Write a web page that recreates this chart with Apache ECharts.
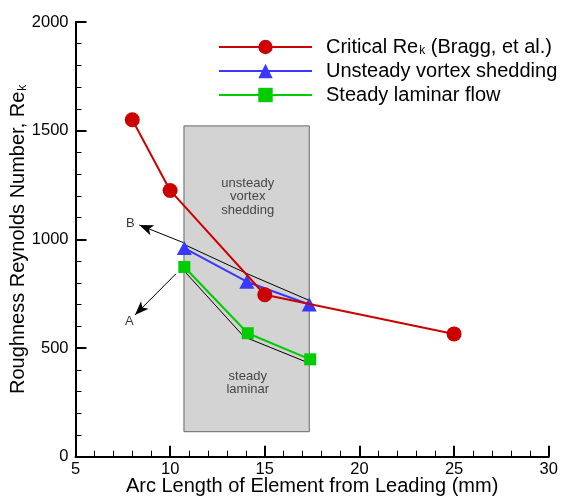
<!DOCTYPE html>
<html><head><meta charset="utf-8">
<script src="https://cdn.jsdelivr.net/npm/echarts@6/dist/echarts.min.js"></script>
<style>html,body{margin:0;padding:0;background:#fff}#c{width:561px;height:497px}</style>
</head><body><div id="c"></div>
<script>
// ---- data ----
const criticalX = [8, 10, 15, 25];
const criticalY = [1550, 1225, 745, 565];
const vortexX = [10.75, 14.05, 17.35];
const vortexY = [960, 805, 700];
const laminarX = [10.75, 14.1, 17.4];
const laminarY = [873, 568, 448];
const vortexEdgeX = [10.78, 14.12, 17.3];
const vortexEdgeY = [975, 840, 721];
const laminarEdgeX = [10.78, 13.9, 17.3];
const laminarEdgeY = [851, 552, 432];
const boxX = [10.73, 17.35];
const boxY = [115, 1522];
const arrowB = [[10.7, 985], [8.37, 1066]];
const arrowA = [[10.3, 841], [8.14, 652]];
const labelB = [7.9, 1074];
const labelA = [7.85, 623];
const boxTextTop = [14.1, 1197, 'unsteady\nvortex\nshedding'];
const boxTextBottom = [14.1, 339, 'steady\nlaminar'];
const xTicks = [5, 10, 15, 20, 25, 30];
const yTicks = [0, 500, 1000, 1500, 2000];
const seriesNames = ['Critical', 'Unsteady vortex shedding', 'Steady laminar flow'];

const zip = (xs, ys) => xs.map((x, i) => [x, ys[i]]);
const FONT = 'Liberation Sans, Arial, sans-serif';
const RED = '#cc0000', BLUE = '#3838ff', GREEN = '#00cc00';

const chart = echarts.init(document.getElementById('c'));
chart.setOption({
  animation: false,
  backgroundColor: '#fff',
  textStyle: {fontFamily: FONT},
  grid: {left: 75.5, right: 12.3, top: 22, bottom: 40.3, containLabel: false, outerBoundsMode: 'none'},
  legend: {
    data: seriesNames,
    orient: 'vertical',
    left: 213, top: 32,
    itemWidth: 93, itemHeight: 18, itemGap: 4,
    textStyle: {fontSize: 20, lineHeight: 20, color: '#000', fontFamily: FONT, padding: [0, 0, 0, 9],
      rich: {
        n: {fontSize: 20, fontFamily: FONT, color: '#000', lineHeight: 20},
        s: {fontSize: 12, fontFamily: FONT, color: '#000', verticalAlign: 'bottom', lineHeight: 6, padding: [0, 0, 0, 1]}
      }},
    formatter: n => n === 'Critical' ? '{n|Critical Re}{s|k}{n| (Bragg, et al.)}' : n,
    selectedMode: false
  },
  xAxis: {
    type: 'value', min: xTicks[0], max: xTicks[xTicks.length - 1], interval: 5,
    name: 'Arc Length of Element from Leading (mm)',
    nameLocation: 'middle', nameGap: 20, nameMoveOverlap: false,
    nameTextStyle: {fontSize: 20, lineHeight: 20, color: '#000', fontFamily: FONT},
    axisLine: {show: true, onZero: false, lineStyle: {color: '#000', width: 2}},
    axisTick: {show: true, inside: true, length: 11, lineStyle: {color: '#000', width: 2}},
    minorTick: {show: true, splitNumber: 5, length: 6, lineStyle: {color: '#000', width: 1}},
    axisLabel: {fontSize: 16.5, color: '#000', margin: 4, fontFamily: FONT, formatter: v => String(v)},
    splitLine: {show: false}
  },
  yAxis: {
    type: 'value', min: yTicks[0], max: yTicks[yTicks.length - 1], interval: 500,
    name: '{a|Roughness Reynolds Number, Re}{s|k}',
    nameLocation: 'middle', nameGap: 47, nameRotate: 90, nameMoveOverlap: false,
    nameTextStyle: {fontSize: 20, color: '#000', fontFamily: FONT,
      rich: {
        a: {fontSize: 20, color: '#000', fontFamily: FONT, lineHeight: 20},
        s: {fontSize: 12, color: '#000', fontFamily: FONT, verticalAlign: 'bottom', lineHeight: 6, padding: [0, 0, 0, 1]}
      }},
    axisLine: {show: true, onZero: false, lineStyle: {color: '#000', width: 2}},
    axisTick: {show: true, inside: true, length: 11, lineStyle: {color: '#000', width: 2}},
    minorTick: {show: true, splitNumber: 5, length: 6, lineStyle: {color: '#000', width: 1}},
    axisLabel: {fontSize: 16.5, color: '#000', margin: 7, fontFamily: FONT, formatter: v => String(v)},
    splitLine: {show: false}
  },
  series: [
    {
      name: 'box', type: 'scatter', data: [], z: 1, silent: true,
      markArea: {
        silent: true,
        itemStyle: {color: '#d3d3d3', borderColor: '#666', borderWidth: 1},
        data: [[{coord: [boxX[0], boxY[0]]}, {coord: [boxX[1], boxY[1]]}]]
      }
    },
    {
      name: 'texts', type: 'scatter', z: 2, silent: true, symbolSize: 0,
      data: [boxTextTop, boxTextBottom],
      label: {show: true, position: 'inside', formatter: p => p.data[2], fontSize: 13, lineHeight: 13.5, color: '#222', fontFamily: FONT}
    },
    {
      name: 'letters', type: 'scatter', z: 2, silent: true, symbolSize: 0,
      data: [[labelB[0], labelB[1], 'B'], [labelA[0], labelA[1], 'A']],
      label: {show: true, position: 'inside', formatter: p => p.data[2], fontSize: 13, color: '#000', fontFamily: FONT},
      markLine: {
        silent: true, symbol: ['none', 'arrow'], symbolSize: [8, 14],
        lineStyle: {color: '#000', width: 1, type: 'solid'},
        label: {show: false},
        data: [
          [{coord: arrowB[0]}, {coord: arrowB[1]}],
          [{coord: arrowA[0]}, {coord: arrowA[1]}]
        ]
      }
    },
    {
      name: 'vedge', type: 'line', z: 3, silent: true, symbol: 'none',
      data: zip(vortexEdgeX, vortexEdgeY), lineStyle: {color: '#000', width: 1}
    },
    {
      name: 'ledge', type: 'line', z: 3, silent: true, symbol: 'none',
      data: zip(laminarEdgeX, laminarEdgeY), lineStyle: {color: '#000', width: 1}
    },
    {
      name: 'Critical', type: 'line', z: 6,
      data: zip(criticalX, criticalY),
      symbol: 'circle', symbolSize: 15,
      lineStyle: {color: RED, width: 2}, itemStyle: {color: RED}
    },
    {
      name: 'Unsteady vortex shedding', type: 'line', z: 5,
      data: zip(vortexX, vortexY),
      symbol: 'triangle', symbolSize: [15, 14],
      lineStyle: {color: BLUE, width: 2}, itemStyle: {color: BLUE}
    },
    {
      name: 'Steady laminar flow', type: 'line', z: 5,
      data: zip(laminarX, laminarY),
      symbol: 'rect', symbolSize: 12,
      lineStyle: {color: GREEN, width: 2}, itemStyle: {color: GREEN}
    }
  ]
});
</script></body></html>
